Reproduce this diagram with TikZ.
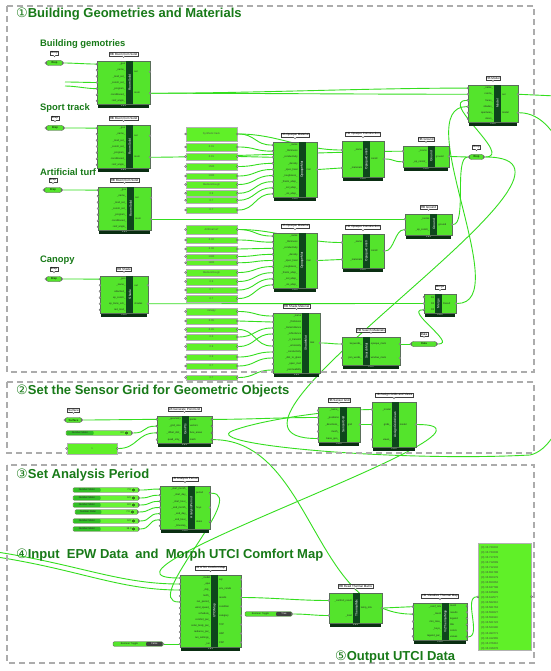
\documentclass[tikz,border=0pt]{standalone}
\usepackage{fontspec}
\setmainfont{Liberation Sans}
\newfontfamily\circf{DejaVu Sans}
\usetikzlibrary{shapes.misc}
\definecolor{ghfill}{RGB}{84,228,44}
\definecolor{ghedge}{RGB}{90,110,90}
\definecolor{ghstr}{RGB}{14,70,28}
\definecolor{ghbarc}{RGB}{10,46,18}
\definecolor{panelc}{RGB}{96,240,40}
\definecolor{wirec}{RGB}{52,222,30}
\definecolor{framec}{RGB}{172,172,172}
\definecolor{titlec}{RGB}{24,122,24}
\definecolor{slc}{RGB}{104,244,52}
\definecolor{sldark}{RGB}{50,190,38}
\pgfdeclarelayer{back}
\pgfdeclarelayer{bg}
\pgfsetlayers{back,bg,main}
\tikzset{
 ghbody/.style={fill=ghfill, draw=ghedge, line width=0.4pt},
 ghbar/.style={fill=ghbarc},
 ghstripe/.style={fill=ghstr},
 ghstxt/.style={text=white, font=\fontsize{3.2}{3.2}\selectfont, inner sep=0pt},
 ghver/.style={text=white, font=\fontsize{2.3}{2.3}\selectfont, inner sep=0pt},
 ghlab/.style={text=black!85, font=\fontsize{2.5}{2.5}\selectfont, inner sep=0pt},
 ghport/.style={circle, fill=gray!35, draw=gray!60!black, line width=0.25pt, inner sep=0pt, minimum size=2.1pt},
 ghtag/.style={draw=black!75, fill=white, line width=0.3pt, inner sep=0.7pt, font=\fontsize{3}{3}\selectfont},
 ghtagline/.style={draw=black!75, fill=white, line width=0.3pt},
 wire/.style={draw=wirec, line width=0.9pt},
 secframe/.style={draw=framec, line width=1.6pt, dash pattern=on 6pt off 4pt},
 ttl/.style={text=titlec, font=\bfseries\fontsize{13}{13}\selectfont, anchor=west, inner sep=0pt},
 subttl/.style={text=titlec, font=\bfseries\fontsize{9.4}{9.4}\selectfont, anchor=west, inner sep=0pt},
 panelbox/.style={draw=gray!60, fill=panelc, line width=0.6pt, inner sep=0pt, font=\fontsize{2.6}{2.6}\selectfont, text=black!70},
 parambox/.style={rounded rectangle, fill=ghfill, draw=black!70, line width=0.35pt, minimum height=5pt, inner sep=0pt, font=\fontsize{2.8}{2.8}\selectfont},
 sliderbox/.style={rectangle, rounded corners=1.2pt, fill=slc, draw=gray!70!black, line width=0.3pt, minimum height=4.6pt, inner sep=0pt},
 sltxt/.style={font=\fontsize{2.5}{2.5}\selectfont, inner sep=0pt, text=black!85},
}
\def\ghsf{0.55}
% component: id, x, y, w, h, tag, stripe name, inputs, outputs
\newcommand{\ghcomp}[9]{%
 \pgfmathsetmacro{\ghR}{#2+#4}%
 \pgfmathsetmacro{\ghB}{#3+#5}%
 \pgfmathsetmacro{\ghS}{#2+\ghsf*#4}%
 \pgfmathsetmacro{\ghM}{#2+#4/2}%
 \pgfmathsetmacro{\ghMy}{#3+#5/2}%
 \pgfmathsetmacro{\ghT}{#3-7}%
 \node[ghtag] (#1-tag) at (\ghM,\ghT) {#6};
 \draw[ghtagline] ([xshift=-1.2pt]#1-tag.south) -- ([yshift=-1.6pt]#1-tag.south) -- ([xshift=1.2pt]#1-tag.south);
 \fill[ghbar] (#2+1,\ghB) rectangle (\ghR-1,\ghB+3.6);
 \node[ghver] (#1-ver) at (\ghM,\ghB+1.8) {1.6.0};
 \draw[ghbody] (#2,#3) rectangle (\ghR,\ghB);
 \fill[ghstripe] (\ghS,#3) rectangle (\ghS+7,\ghB);
 \node[ghstxt,rotate=90] (#1-name) at (\ghS+3.5,\ghMy) {#7};
 \foreach \ghl [count=\i] in {#8} {\xdef\ghN{\i}}
 \foreach \ghl [count=\i] in {#8} {
   \pgfmathsetmacro{\yy}{#3+(\i-0.5)*#5/\ghN}
   \node[ghport] (#1-in\i) at (#2,\yy) {};
   \node[ghlab,anchor=east] (#1-inl\i) at (\ghS-0.8,\yy) {\ghl};
 }
 \foreach \ghl [count=\i] in {#9} {\xdef\ghN{\i}}
 \foreach \ghl [count=\i] in {#9} {
   \pgfmathsetmacro{\yy}{#3+(\i-0.5)*#5/\ghN}
   \node[ghport] (#1-out\i) at (\ghR,\yy) {};
   \node[ghlab,anchor=west] (#1-outl\i) at (\ghS+7.8,\yy) {\ghl};
 }
}
% param capsule: id, x1, x2, y, text, tag
\newcommand{\ghparam}[6]{%
 \pgfmathsetmacro{\ghPW}{#3-#2}%
 \pgfmathsetmacro{\ghPM}{(#2+#3)/2}%
 \node[parambox, minimum width=\ghPW pt] (#1) at (\ghPM,#4) {#5};
 \node[ghtag] (#1-tag) at (\ghPM,#4-10) {#6};
 \draw[ghtagline] ([xshift=-1.2pt]#1-tag.south) -- ([yshift=-1.6pt]#1-tag.south) -- ([xshift=1.2pt]#1-tag.south);
 \node[ghport] (#1-i) at (#1.west) {};
 \node[ghport] (#1-o) at (#1.east) {};
}
% panel: id, x1, y1, x2, y2, text
\newcommand{\ghpanel}[6]{%
 \pgfmathsetmacro{\ghPW}{#4-#2}\pgfmathsetmacro{\ghPH}{#5-#3}%
 \pgfmathsetmacro{\ghPM}{(#2+#4)/2}\pgfmathsetmacro{\ghPY}{(#3+#5)/2}%
 \node[panelbox, minimum width=\ghPW pt, minimum height=\ghPH pt] (#1) at (\ghPM,\ghPY) {#6};
 \node[ghport] (#1-i) at (#1.west) {};
 \node[ghport] (#1-o) at (#1.east) {};
}
% slider: id, x1, x2, y, value
\newcommand{\ghslider}[5]{%
 \pgfmathsetmacro{\ghSW}{#3-#2}%
 \pgfmathsetmacro{\ghSM}{(#2+#3)/2}%
 \pgfmathsetmacro{\ghSL}{#2+0.42*(#3-#2)}%
 \pgfmathsetmacro{\ghSC}{(#2+\ghSL)/2}%
 \node[sliderbox, minimum width=\ghSW pt] (#1) at (\ghSM,#4) {};
 \fill[sldark, rounded corners=1pt] (#2+0.6,#4-1.9) rectangle (\ghSL,#4+1.9);
 \node[sltxt] (#1-t) at (\ghSC,#4) {Number Slider};
 \node[sltxt] (#1-v) at (#3-10,#4) {#5};
 \draw[line width=0.3pt] (#3-5.5,#4) circle (1.1pt);
 \node[ghport] (#1-o) at (#1.east) {};
}
% toggle: id, x1, x2, y, value
\newcommand{\ghtoggle}[5]{%
 \pgfmathsetmacro{\ghSW}{#3-#2}%
 \pgfmathsetmacro{\ghSM}{(#2+#3)/2}%
 \pgfmathsetmacro{\ghSL}{#2+0.66*(#3-#2)}%
 \pgfmathsetmacro{\ghSC}{(#2+\ghSL)/2}%
 \pgfmathsetmacro{\ghSD}{(#3+\ghSL)/2}%
 \node[sliderbox, fill=ghfill, minimum width=\ghSW pt] (#1) at (\ghSM,#4) {};
 \fill[black!75, rounded corners=1pt] (\ghSL,#4-1.9) rectangle (#3-0.6,#4+1.9);
 \node[sltxt] (#1-t) at (\ghSC,#4) {Boolean Toggle};
 \node[sltxt, text=white] (#1-v) at (\ghSD,#4) {#5};
 \node[ghport] (#1-o) at (#1.east) {};
}
\newcommand{\ghwire}[3][20]{\draw[wire] (#2) .. controls +(#1,0) and +(-#1,0) .. (#3);}

\begin{document}
\begin{tikzpicture}[x=1pt,y=-1pt]
\useasboundingbox (0,0) rectangle (550,671);
\begin{pgfonlayer}{back}
\fill[white] (0,0) rectangle (550,671);
\end{pgfonlayer}

% section frames
\draw[secframe] (7,6) rectangle (534,372);
\draw[secframe] (7,382) rectangle (534,453);
\draw[secframe] (7,465) rectangle (534,663);

% titles
\node[ttl] (t1) at (16,14) {{\circf\mdseries ①}Building Geometries and Materials};
\node[ttl] (t2) at (16,391) {{\circf\mdseries ②}Set the Sensor Grid for Geometric Objects};
\node[ttl] (t3) at (16,475) {{\circf\mdseries ③}Set Analysis Period};
\node[ttl] (t4) at (16,555) {{\circf\mdseries ④}Input\ \ EPW Data\ \ and\ \ Morph UTCI Comfort Map};
\node[ttl] (t5) at (335,657) {{\circf\mdseries ⑤}Output UTCI Data};
\node[subttl] (st1) at (40,44) {Building gemotries};
\node[subttl] (st2) at (40,108) {Sport track};
\node[subttl] (st3) at (40,172) {Artificial turf};
\node[subttl] (st4) at (40,260) {Canopy};

% ---------- section 1 ----------
\ghparam{b1}{46}{63}{63}{Brep}{Brep}
\ghparam{b2}{46}{64}{128}{Brep}{Brep}
\ghparam{b3}{44}{62}{190}{Brep}{Brep}
\ghparam{b4}{46}{62}{279}{Brep}{Brep}

\ghcomp{rs1}{97}{61}{53}{43}{HB Room from Solid}{RoomSolid}{\_geo,\_name\_,\_mod\_set\_,\_constr\_set\_,\_program\_,conditioned\_,roof\_angle\_}{out,room}
\ghcomp{rs2}{97}{125}{53}{43}{HB Room from Solid}{RoomSolid}{\_geo,\_name\_,\_mod\_set\_,\_constr\_set\_,\_program\_,conditioned\_,roof\_angle\_}{out,room}
\ghcomp{rs3}{98}{187}{53}{43}{HB Room from Solid}{RoomSolid}{\_geo,\_name\_,\_mod\_set\_,\_constr\_set\_,\_program\_,conditioned\_,roof\_angle\_}{out,room}
\ghcomp{sh}{100}{276}{48}{37}{HB Shade}{Shade}{\_geo,\_name\_,attached\_,ep\_constr\_,ep\_trans\_sch\_,rad\_mod\_}{out,shades}

\foreach \ya/\yb/\tx [count=\k] in {127/141/Synthetic track,143/151/0.01,153/160/0.15,163/170/1500,173/179/1000,181/188/MediumRough,190.5/196/0.9,197.5/203/0.7,207/213/0.7}
 {\ghpanel{c1p\k}{186}{\ya}{237}{\yb}{\tx}}
\foreach \ya/\yb/\tx [count=\k] in {225/234/Artificial turf,237/243/0.02,246/252/0.06,254/259/1300,260.5/265/1800,269/276/MediumRough,278/285/0.9,287/293/0.7,295/302/0.7}
 {\ghpanel{c2p\k}{186}{\ya}{237}{\yb}{\tx}}
\foreach \ya/\yb/\tx [count=\k] in {308/315/canopy,318/324/0.05,327/332/0.45,334/340/0.5,343/350/0.9,354/360/0.9,363/369/0.7,375/380/0.7}
 {\ghpanel{c3p\k}{186}{\ya}{237}{\yb}{\tx}}

\def\ghsf{0.58}
\ghcomp{om1}{273}{142}{44}{55}{HB Opaque Material}{OpaqueMat}{\_name,\_thickness,\_conductivity,\_density,\_spec\_heat,\_roughness\_,\_therm\_absp\_,\_sol\_absp\_,\_vis\_absp\_}{mat}
\ghcomp{om2}{273}{233}{44}{55}{HB Opaque Material}{OpaqueMat}{\_name,\_thickness,\_conductivity,\_density,\_spec\_heat,\_roughness\_,\_therm\_absp\_,\_sol\_absp\_,\_vis\_absp\_}{mat}
\def\ghsf{0.62}
\ghcomp{sm}{273}{313}{47}{60}{HB Shade Material}{ShadeMat}{\_name,\_thickness,\_transmittance,\_reflectance,\_ir\_transmit,\_emissivity,\_conductivity,\_dist\_to\_glass,\_open\_mult,\_permeability}{mat}
\def\ghsf{0.5}
\ghcomp{oc1}{342}{141}{42}{36}{HB Opaque Construction}{OpaqueConstr}{\_name,\_materials}{constr}
\ghcomp{oc2}{342}{234}{42}{34}{HB Opaque Construction}{OpaqueConstr}{\_name,\_materials}{constr}
\def\ghsf{0.54}
\ghcomp{g1}{403}{146}{46}{21}{HB Ground}{Ground}{\_rooms,\_ep\_constr\_}{ground}
\ghcomp{g2}{405}{214}{47}{21}{HB Ground}{Ground}{\_rooms,\_ep\_constr\_}{ground}
\def\ghsf{0.36}
\ghcomp{srch}{342}{337}{58}{28}{HB Search Materials}{SearchMat}{keywords\_,join\_words\_}{opaque\_mats,window\_mats}
\def\ghsf{0.35}
\ghcomp{mrg}{424}{294}{32}{19}{Merge}{Merge}{D1,D2,D3}{Result}
\def\ghsf{0.52}
\ghcomp{mdl}{468}{85}{50}{37}{HB Model}{Model}{\_name\_,rooms\_,faces\_,shades\_,apertures\_,doors\_}{out,model}

\ghparam{bg}{469}{484}{157}{Brep}{Brep}
\ghparam{dt}{411}{437}{344}{Data}{Data}

% ---------- section 2 ----------
\ghparam{sf}{65}{82}{420}{Surface}{Surface}
\ghslider{sl0}{66}{132}{433}{3.0}
\ghpanel{pn0}{67}{443}{117}{454}{1}
\def\ghsf{0.45}
\ghcomp{gp}{157}{416}{55}{27}{LB Generate Point Grid}{GenPts}{\_geometry,\_grid\_size,\_offset\_dist\_,quad\_only\_}{points,vectors,face\_areas,mesh}
\def\ghsf{0.52}
\ghcomp{sg}{318}{407}{42}{35}{HB Sensor Grid}{SensorGrid}{\_name\_,\_positions,\_directions\_,mesh\_,base\_geo\_}{grid}
\def\ghsf{0.45}
\ghcomp{ag}{372}{402}{44}{45}{HB Assign Grids and Views}{AssignGridsViews}{\_model,grids\_,views\_}{model}

% ---------- section 3 ----------
\ghslider{a1}{73}{139}{490}{7.0}
\ghslider{a2}{73}{139}{498}{6.0}
\ghslider{a3}{73}{139}{505}{8.0}
\ghslider{a4}{75}{138}{512}{7.0}
\ghslider{a5}{73}{139}{521}{6.0}
\ghslider{a6}{73}{139}{529}{18.0}
\def\ghsf{0.56}
\ghcomp{ap}{160}{486}{50}{43}{LB Analysis Period}{AnalysisPeriod}{\_start\_month\_,\_start\_day\_,\_start\_hour\_,\_end\_month\_,\_end\_day\_,\_end\_hour\_,\_timestep\_}{period,hoys,dates}

% ---------- section 4 ----------
\def\ghsf{0.51}
\ghcomp{ut}{180}{575}{61}{72}{LB UTCI Comfort Map}{UTCIMap}{\_model,\_epw,\_ddy\_,north\_,run\_period\_,wind\_speed\_,schedule\_,comfort\_par\_,solar\_body\_par\_,radiance\_par\_,run\_settings\_,\_run}{sql,env\_conds,results,condition,category,TCP,HSP,CSP}
\ghtoggle{tg1}{113}{163}{644}{False}
\ghtoggle{tg2}{245}{292}{614}{True}
\def\ghsf{0.45}
\ghcomp{tm}{329}{593}{53}{30}{HB Read Thermal Matrix}{ThermalMtx}{\_comfort\_result,\_load}{temp\_mtx}
\def\ghsf{0.54}
\ghcomp{vz}{413}{603}{54}{37}{HB Visualize Thermal Map}{VizThermalMap}{\_comf\_mtx,\_mesh,min\_max\_,\_hoys\_,legend\_par\_}{mesh,results,legend,title,colors,values}

% ---------- section 5: output panel ----------
\node[panelbox, anchor=north west, minimum width=53pt, minimum height=107pt] (bp) at (478,543) {};
\node[anchor=north west, inner sep=0pt, align=left, text=black!75, font=\fontsize{2.7}{5.05}\selectfont] (bptxt) at (481,546) {%
\{0\} 15.730202\\ \{0\} 15.733238\\ \{0\} 15.717378\\ \{0\} 15.712089\\ \{0\} 15.712102\\ \{0\} 15.651788\\ \{0\} 15.650179\\ \{0\} 15.650262\\ \{0\} 15.637788\\ \{0\} 15.635989\\ \{0\} 15.612577\\ \{0\} 15.582310\\ \{0\} 15.581763\\ \{0\} 15.558227\\ \{0\} 15.558110\\ \{0\} 15.561722\\ \{0\} 15.523180\\ \{0\} 15.493771\\ \{0\} 15.412365\\ \{0\} 15.376310\\ \{0\} 15.316278};
\node[ghport] (bp-i) at (bp.west) {};
\node[ghport] (bp-o) at (bp.east) {};

% free wire ends
\coordinate (s1) at (65,82);
\coordinate (s2) at (65,86);
\coordinate (e1) at (-3,552);
\coordinate (e2) at (-3,557);
\coordinate (offR) at (556,96);
\coordinate (w1) at (530,455);
\coordinate (w2) at (232,431);

% ---------- wires ----------
\begin{pgfonlayer}{bg}
\ghwire[8]{b1-o}{rs1-in1}
\ghwire[8]{b2-o}{rs2-in1}
\ghwire[8]{b3-o}{rs3-in1}
\ghwire[8]{b4-o}{sh-in1}
\ghwire[10]{s1}{rs1-in4}
\ghwire[10]{s2}{rs1-in5}
\ghwire[100]{rs1-out2}{mdl-in1}
\ghwire[100]{rs1-out2}{mdl-in2}
\ghwire[60]{rs2-out2}{g1-in1}
\ghwire[60]{rs3-out2}{g2-in1}
\ghwire[60]{sh-out2}{mrg-in2}
\foreach \k in {1,...,9} {\ghwire[18]{c1p\k-o}{om1-in\k}}
\foreach \k in {1,...,9} {\ghwire[18]{c2p\k-o}{om2-in\k}}
\ghwire[40]{c1p1-o}{oc1-in1}
\ghwire[40]{c2p1-o}{oc2-in1}
\foreach \a/\b in {1/1,2/2,3/6,4/3,5/4,6/7,7/8,8/10} {\ghwire[18]{c3p\a-o}{sm-in\b}}
\ghwire[12]{om1-out1}{oc1-in2}
\ghwire[12]{om2-out1}{oc2-in2}
\ghwire[10]{oc1-out1}{g1-in2}
\ghwire[10]{oc2-out1}{g2-in2}
\ghwire[10]{g1-out1}{bg-i}
\ghwire[15]{g2-out1}{bg-i}
\ghwire[30]{bg-o}{mdl-in3}
\ghwire[60]{mrg-out1}{mdl-in4}
\ghwire[10]{sm-out1}{srch-in1}
\ghwire[6]{srch-out1}{dt-i}
\ghwire[20]{dt-o}{mrg-in3}
\draw[wire] (mdl-out1) -- (offR);
\draw[wire] (mdl-out2) .. controls +(90,0) and (600,440) .. (w1) .. controls (400,462) and (200,445) .. (w2) .. controls (260,420) and (330,410) .. (ag-in1);
\ghwire[150]{bg-o}{sg-in5}
% section 2
\ghwire[20]{sf-o}{gp-in1}
\ghwire[15]{sl0-o}{gp-in2}
\ghwire[20]{pn0-o}{gp-in3}
\ghwire[40]{gp-out1}{sg-in2}
\ghwire[6]{sg-out1}{ag-in2}
\ghwire[100]{gp-out4}{vz-in2}
\ghwire[120]{ag-out1}{ut-in1}
% section 3/4
\foreach \k in {1,...,6} {\ghwire[12]{a\k-o}{ap-in\k}}
\ghwire[40]{ap-out1}{ut-in5}
\draw[wire] (e1) .. controls (80,565) and (120,584) .. (ut-in2);
\draw[wire] (e2) .. controls (80,570) and (120,590) .. (ut-in3);
\ghwire[8]{tg1-o}{ut-in12}
\ghwire[30]{ut-out3}{tm-in1}
\ghwire[15]{tg2-o}{tm-in2}
\ghwire[15]{tm-out1}{vz-in1}
\ghwire[15]{vz-out6}{bp-i}
\end{pgfonlayer}
\end{tikzpicture}
\end{document}
